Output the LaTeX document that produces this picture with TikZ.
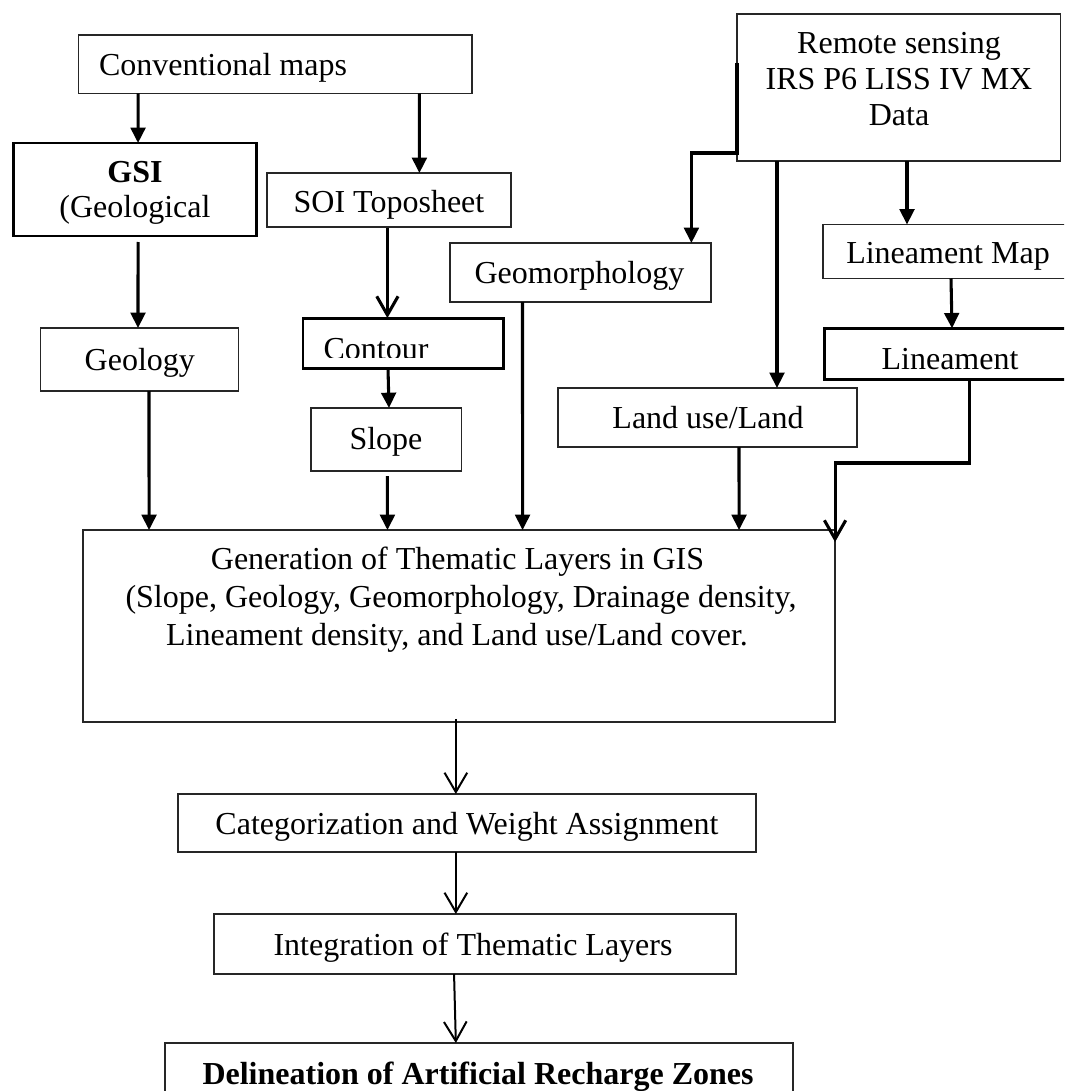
\documentclass[tikz,border=0pt]{standalone}
\usepackage{fontspec}
\setmainfont{Liberation Serif}
\usetikzlibrary{arrows.meta,calc}
\begin{document}
\begin{tikzpicture}[x=0.75pt,y=-0.75pt,
  wh/.style 2 args={minimum width=#1*0.75pt, minimum height=#2*0.75pt},
  box/.style={draw=black!85, line width=1.2pt, inner sep=0pt, outer sep=0pt},
  tbox/.style={box, draw=black, line width=2.2pt},
  lbl/.style={inner sep=0pt, outer sep=0pt, font=\fontsize{24pt}{28pt}\selectfont, anchor=base},
  arr/.style={line width=2.3pt, -{Triangle[length=11.5pt,width=11pt]}},
  oarr/.style={line width=2.3pt, -{Straight Barb[length=14pt,width=16pt]}},
  tarr/.style={line width=1.5pt, -{Straight Barb[length=14.5pt,width=17pt]}},
]
\useasboundingbox (0,0) rectangle (1064,1091);
\clip (0,0) rectangle (1064,1091);

% boxes
\node[box, wh={393.3}{58.3}] (conv) at (275.2,64.2) {};
\node[tbox, wh={242.7}{93}] (gsi) at (135.2,189.5) {};
\node[box, wh={244}{54}] (soi) at (389,200) {};
\node[box, wh={323.6}{147}] (rs) at (898.8,87.5) {};
\node[box, wh={261}{59}] (geomorph) at (580.5,272.5) {};
\node[box, wh={257}{54}] (linmap) at (951.5,251.5) {};
\node[box, wh={198}{63}] (geology) at (139.6,359.5) {};
\node[tbox, wh={200.4}{50.3}] (contour) at (403.2,343.2) {};
\node[tbox, wh={255.4}{51.2}] (lin) at (952.3,353.9) {};
\node[box, wh={150.4}{63}] (slope) at (386.2,439.5) {};
\node[box, wh={299}{59}] (landuse) at (707.5,417.5) {};
\node[box, wh={752.3}{191.7}] (gis) at (458.9,625.9) {};
\node[box, wh={578.3}{58}] (cat) at (466.9,823) {};
\node[box, wh={521.9}{60}] (int) at (474.8,944) {};
\node[box, wh={628.3}{67}] (del) at (478.9,1076.5) {};

% labels
\node[lbl, anchor=base west] (conv-l) at (99,76) {Conventional maps};
\node[lbl] (gsi-l1) at (135,183) {\textbf{GSI}};
\node[lbl] (gsi-l2) at (135,218) {(Geological};
\node[lbl] (soi-l) at (389,213) {SOI Toposheet};
\node[lbl] (rs-l1) at (899,53.3) {Remote sensing};
\node[lbl] (rs-l2) at (899,90) {IRS P6 LISS IV MX};
\node[lbl] (rs-l3) at (899,126) {Data};
\node[lbl] (geomorph-l) at (579.5,283) {Geomorphology};
\node[lbl] (linmap-l) at (948,263) {Lineament Map};
\node[lbl] (geology-l) at (139.8,370) {Geology};
\begin{scope}
  \clip (300,320) rectangle (510,357.3);
  \node[lbl] (contour-l) at (376,359) {Contour};
\end{scope}
\node[lbl] (lin-l) at (950,369) {Lineament};
\node[lbl] (slope-l) at (386,449) {Slope};
\node[lbl] (landuse-l) at (708,428) {Land use/Land};
\node[lbl] (gis-l1) at (457.5,569) {Generation of Thematic Layers in GIS};
\node[lbl] (gis-l2) at (461,607) {(Slope, Geology, Geomorphology, Drainage density,};
\node[lbl] (gis-l3) at (457,645) {Lineament density, and Land use/Land cover.};
\node[lbl] (cat-l) at (467,834) {Categorization and Weight Assignment};
\node[lbl] (int-l) at (473,955) {Integration of Thematic Layers};
\node[lbl] (del-l) at (478,1084) {\textbf{Delineation of Artificial Recharge Zones}};

% connectors
\draw[arr] ($(conv.south west)+(59.5,0)$) -- ($(gsi.north west)+(124.2,0)$);
\draw[arr] ($(conv.south west)+(340.9,0)$) -- ($(soi.north west)+(152.4,0)$);
\draw[arr] ($(gsi.south west)+(124.2,6)$) -- ($(geology.north west)+(97.4,0)$);
\draw[oarr] ($(soi.south west)+(120.4,1)$) -- ($(contour.north west)+(84.4,0)$);
\draw[arr] ($(contour.south west)+(85,0)$) -- ($(slope.north west)+(78,0)$);
\draw[arr] ($(slope.south west)+(76.4,5)$) -- ($(gis.north west)+(304.7,0)$);
\draw[arr] ($(geology.south west)+(108.4,0)$) -- ($(gis.north west)+(66.3,0)$);
\draw[arr] ($(geomorph.south west)+(72.5,0)$) -- ($(gis.north west)+(439.8,0)$);
\draw[arr] ($(rs.north west)+(0,49)$) -- ($(rs.south west)+(0,-8)$) -| ($(geomorph.north west)+(241.4,0)$);
\draw[arr] ($(rs.south west)+(40,0)$) -- ($(landuse.north west)+(219,0)$);
\draw[arr] ($(rs.south west)+(170,0)$) -- ($(linmap.north west)+(84,0)$);
\draw[arr] ($(linmap.south west)+(128,0)$) -- ($(lin.north west)+(127.4,0)$);
\draw[arr] ($(landuse.south west)+(181,0)$) -- ($(gis.north west)+(656.3,0)$);
\draw[oarr] ($(lin.south west)+(145,0)$) -- ++(0,83.5) -| ($(gis.north east)+(0,12)$);
\draw[tarr] ($(gis.south west)+(373.1,-3)$) -- ($(cat.north west)+(278.1,0)$);
\draw[tarr] ($(cat.south west)+(278.1,0)$) -- ($(int.north west)+(242,0)$);
\draw[tarr] ($(int.south west)+(240.2,0)$) -- ($(del.north west)+(291.1,0)$);
\end{tikzpicture}
\end{document}
